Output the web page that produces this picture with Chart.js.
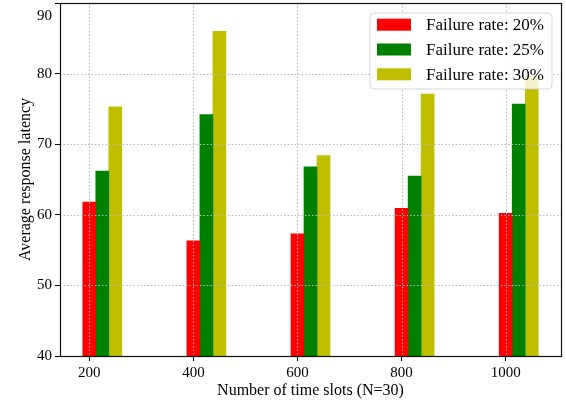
<!DOCTYPE html>
<html>
<head>
<meta charset="utf-8">
<script src="https://cdn.jsdelivr.net/npm/chart.js@4.4.1/dist/chart.umd.min.js"></script>
<style>
  html, body { margin: 0; padding: 0; background: #fff; }
  #wrap { width: 566px; height: 402px; }
</style>
</head>
<body>
<div id="wrap"><canvas id="latencyChart" width="566" height="402"></canvas></div>
<script>
// values
var timeSlots = [200, 400, 600, 800, 1000];
var seriesNames = ['Failure rate: 20%', 'Failure rate: 25%', 'Failure rate: 30%'];
var rate20 = [61.8, 56.3, 57.3, 60.9, 60.2];
var rate25 = [66.2, 74.2, 66.8, 65.5, 75.7];
var rate30 = [75.3, 86.0, 68.4, 77.1, 79.6];
var yTicks = [40, 50, 60, 70, 80, 90];
var xTitle = 'Number of time slots (N=30)';
var yTitle = 'Average response latency';

var barColors = ['#ff0000', '#008000', '#bfbf00'];
var barStep = 25;          // each series shifted right by this many x units
var xMin = 143.75, xMax = 1106.25;

Chart.defaults.font.family = "'Liberation Serif', 'Times New Roman', serif";
Chart.defaults.color = '#000';

var seriesValues = [rate20, rate25, rate30];
var datasets = seriesValues.map(function(vals, i) {
    return {
        label: seriesNames[i],
        data: timeSlots.map(function(t, j) { return { x: t + i * barStep, y: vals[j] }; }),
        backgroundColor: barColors[i],
        borderWidth: 0,
        grouped: false,
        barPercentage: 1,
        categoryPercentage: 1
    };
});

function noPad(s) {
    s.paddingTop = 0; s.paddingBottom = 0; s.paddingLeft = 0; s.paddingRight = 0;
}

// dotted grid over the bars, black frame, top tick label, legend box
var overlay = {
    id: 'overlay',
    afterDatasetsDraw: function(chart) {
        var ctx = chart.ctx, a = chart.chartArea;
        var xs = chart.scales.x, ys = chart.scales.y;
        ctx.save();
        ctx.strokeStyle = '#b8b8b8';
        ctx.lineWidth = 1;
        ctx.setLineDash([1.5, 2]);
        xs.ticks.forEach(function(t) {
            var px = Math.round(xs.getPixelForValue(t.value)) + 0.5;
            ctx.beginPath(); ctx.moveTo(px, a.top); ctx.lineTo(px, a.bottom); ctx.stroke();
        });
        ys.ticks.forEach(function(t) {
            var py = Math.round(ys.getPixelForValue(t.value)) + 0.5;
            ctx.beginPath(); ctx.moveTo(a.left, py); ctx.lineTo(a.right, py); ctx.stroke();
        });
        ctx.setLineDash([]);
        ctx.strokeStyle = '#111';
        ctx.lineWidth = 1.2;
        ctx.strokeRect(Math.round(a.left) + 0.5, Math.round(a.top) + 0.5,
                       Math.round(a.right - a.left), Math.round(a.bottom - a.top));
        ctx.restore();
    },
    afterDraw: function(chart) {
        var ctx = chart.ctx, a = chart.chartArea, ys = chart.scales.y;
        ctx.save();
        // top y label sits a bit lower in the original
        var top = yTicks[yTicks.length - 1];
        ctx.font = '15px ' + Chart.defaults.font.family;
        ctx.fillStyle = '#000';
        ctx.textAlign = 'right';
        ctx.textBaseline = 'middle';
        ctx.fillText(String(top), a.left - 8, ys.getPixelForValue(top) + 13);

        // legend
        var bx = a.right - 191, by = a.top + 10, bw = 182, bh = 76, r = 4;
        ctx.beginPath();
        ctx.moveTo(bx + r, by);
        ctx.arcTo(bx + bw, by, bx + bw, by + bh, r);
        ctx.arcTo(bx + bw, by + bh, bx, by + bh, r);
        ctx.arcTo(bx, by + bh, bx, by, r);
        ctx.arcTo(bx, by, bx + bw, by, r);
        ctx.closePath();
        ctx.fillStyle = 'rgba(255,255,255,0.8)';
        ctx.fill();
        ctx.strokeStyle = 'rgba(204,204,204,0.8)';
        ctx.lineWidth = 1;
        ctx.stroke();

        ctx.font = '17px ' + Chart.defaults.font.family;
        ctx.textAlign = 'left';
        chart.data.datasets.forEach(function(ds, i) {
            var cy = by + 11.7 + i * 24.8;
            ctx.fillStyle = ds.backgroundColor;
            ctx.fillRect(bx + 7, cy - 6, 34, 12);
            ctx.fillStyle = '#000';
            ctx.fillText(ds.label, bx + 56, cy + 1);
        });
        ctx.restore();
    }
};

new Chart(document.getElementById('latencyChart').getContext('2d'), {
    type: 'bar',
    data: { datasets: datasets },
    options: {
        responsive: false,
        animation: false,
        layout: { autoPadding: false, padding: { top: 3, right: 5, left: 0, bottom: 0 } },
        plugins: { legend: { display: false }, tooltip: { enabled: false } },
        scales: {
            x: {
                type: 'linear',
                min: xMin,
                max: xMax,
                offset: false,
                afterBuildTicks: function(s) { s.ticks = timeSlots.map(function(v) { return { value: v }; }); },
                afterFit: function(s) { s.height = 46; noPad(s); },
                ticks: {
                    font: { size: 15 },
                    padding: 3,
                    maxRotation: 0,
                    callback: function(v) { return String(v); }
                },
                grid: { offset: false, drawOnChartArea: false, tickLength: 5, tickColor: '#000', color: '#000' },
                border: { display: false },
                title: {
                    display: true,
                    text: xTitle,
                    font: { size: 16, lineHeight: 1.2 },
                    padding: { top: 0, bottom: 2 }
                }
            },
            y: {
                min: yTicks[0],
                max: yTicks[yTicks.length - 1],
                afterBuildTicks: function(s) { s.ticks = yTicks.map(function(v) { return { value: v }; }); },
                afterFit: function(s) { s.width = 60; noPad(s); },
                ticks: {
                    font: { size: 15 },
                    padding: 3,
                    callback: function(v) { return v === yTicks[yTicks.length - 1] ? '' : String(v); }
                },
                grid: { drawOnChartArea: false, tickLength: 5, tickColor: '#000', color: '#000' },
                border: { display: false },
                title: {
                    display: true,
                    text: yTitle,
                    font: { size: 16, lineHeight: 1.2 },
                    padding: { top: 16, bottom: 0 }
                }
            }
        }
    },
    plugins: [overlay]
});
</script>
</body>
</html>
